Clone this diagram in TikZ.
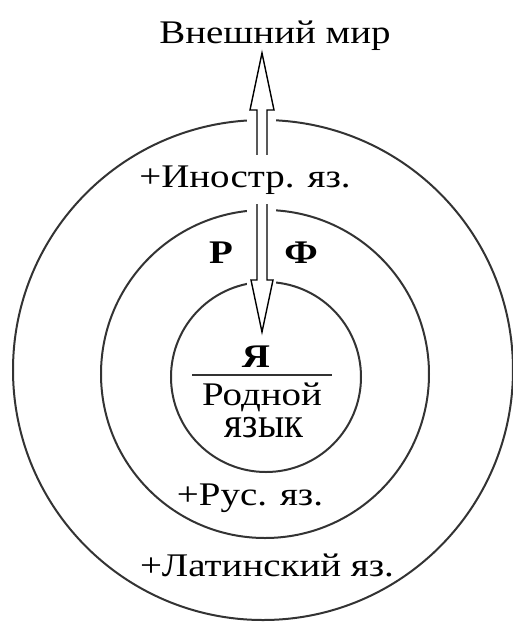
\documentclass[tikz,border=0pt]{standalone}
\usepackage{fontspec}
\setmainfont{Liberation Serif}[FakeStretch=1.18]
\usetikzlibrary{calc}
\definecolor{ink}{HTML}{333333}
\tikzset{
  ring/.style={draw=ink, line width=1pt},
  dblarrow/.style={draw=black, line width=0.7pt, fill=white, line join=miter},
  label/.style={anchor=base, inner sep=0pt, font=\fontsize{16.5}{18}\selectfont},
  boldlabel/.style={label, font=\fontsize{16.5}{18}\selectfont\bfseries},
}

\begin{document}
\begin{tikzpicture}[x=0.5pt, y=-0.5pt]
  \useasboundingbox (0,0) rectangle (513,623);
  % three circles
  \coordinate (c1) at (263,370);
  \coordinate (c2) at (265,374);
  \coordinate (c3) at (266,377);
  \draw[ring] (c1) circle (125pt);
  \draw[ring] (c2) circle (82pt);
  \draw[ring] (c3) circle (47.5pt);

  % arrow between the outside and the centre
  \coordinate (up) at (262,53);
  \coordinate (down) at (262,332);
  \fill[white] ($(up)+(-15,-2)$) rectangle ($(down)+(14,2)$);
  \draw[dblarrow] (up) -- ($(up)+(12,57)$) -- ($(up)+(5,57)$) -- ($(down)+(5,-52)$)
    -- ($(down)+(11,-52)$) -- (down) -- ($(down)+(-11,-52)$) -- ($(down)+(-5,-52)$)
    -- ($(up)+(-5,57)$) -- ($(up)+(-12,57)$) -- cycle;

  % labels
  \node[label] (world) at (275,43) {Внешний мир};
  \node[label, fill=white, inner xsep=0pt, inner ysep=5pt] (foreign) at (245,187) {+Иностр. яз.};
  \node[boldlabel] (rusR) at (221,263) {Р};
  \node[boldlabel] (frF) at (301,263) {Ф};
  \node[boldlabel] (self) at (256,367) {Я};
  \draw[ink, line width=1pt] (192,375) -- (332,375);
  \node[label] (native) at (262,405) {Родной};
  \node[label, yscale=1.3] (tongue) at (264,437) {язык};
  \node[label] (russian) at (250,505) {+Рус. яз.};
  \node[label] (latin) at (267,576) {+Латинский яз.};
\end{tikzpicture}
\end{document}
